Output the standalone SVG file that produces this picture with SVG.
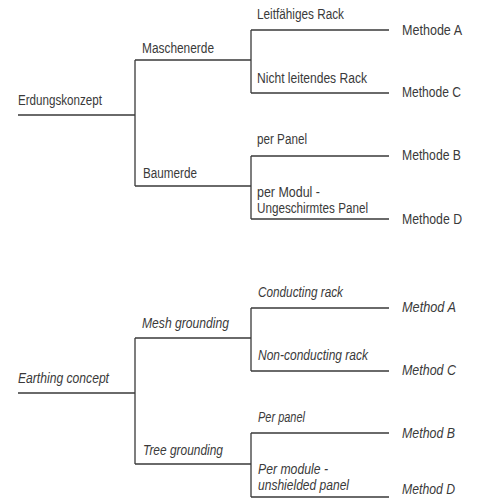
<svg xmlns="http://www.w3.org/2000/svg" width="477" height="499" viewBox="0 0 477 499">
<style>
.t{font-family:"Liberation Sans",Arial,sans-serif;font-size:14px;fill:#3a3a3a}
.i{font-style:italic}
.c{fill:none;stroke:#3a3a3a;stroke-width:1.3}
</style>
<rect width="477" height="499" fill="#fff"/>
<g id="connectors" class="c">
<path d="M18 115H135M135 60V186M135 60H251M135 186H251"/>
<path d="M251 30V93M251 30H389M251 93H389"/>
<path d="M251 156V219M251 156H389M251 219H389"/>
<path d="M18 393H135M135 338V464M135 338H251M135 464H251"/>
<path d="M251 308V371M251 308H389M251 371H389"/>
<path d="M251 433V497M251 433H389M251 497H389"/>
</g>
<g id="n-erdungskonzept"><text class="t" x="18" y="105" textLength="84" lengthAdjust="spacingAndGlyphs">Erdungskonzept</text></g>
<g id="n-maschenerde"><text class="t" x="142" y="53" textLength="72" lengthAdjust="spacingAndGlyphs">Maschenerde</text></g>
<g id="n-baumerde"><text class="t" x="143" y="178" textLength="54" lengthAdjust="spacingAndGlyphs">Baumerde</text></g>
<g id="n-leitfaehiges"><text class="t" x="257" y="19" textLength="87" lengthAdjust="spacingAndGlyphs">Leitfähiges Rack</text></g>
<g id="n-methode-a"><text class="t" x="402" y="35" textLength="60" lengthAdjust="spacingAndGlyphs">Methode A</text></g>
<g id="n-nicht-leitendes"><text class="t" x="257" y="83" textLength="110" lengthAdjust="spacingAndGlyphs">Nicht leitendes Rack</text></g>
<g id="n-methode-c"><text class="t" x="402" y="97" textLength="59" lengthAdjust="spacingAndGlyphs">Methode C</text></g>
<g id="n-per-panel"><text class="t" x="257" y="144" textLength="50" lengthAdjust="spacingAndGlyphs">per Panel</text></g>
<g id="n-methode-b"><text class="t" x="402" y="160" textLength="59" lengthAdjust="spacingAndGlyphs">Methode B</text></g>
<g id="n-per-modul"><text class="t" x="257" y="197" textLength="63" lengthAdjust="spacingAndGlyphs">per Modul -</text><text class="t" x="257" y="213" textLength="111" lengthAdjust="spacingAndGlyphs">Ungeschirmtes Panel</text></g>
<g id="n-methode-d"><text class="t" x="402" y="224" textLength="60" lengthAdjust="spacingAndGlyphs">Methode D</text></g>
<g id="n-earthing"><text class="t i" x="18" y="383" textLength="91" lengthAdjust="spacingAndGlyphs">Earthing concept</text></g>
<g id="n-mesh"><text class="t i" x="142" y="328" textLength="87" lengthAdjust="spacingAndGlyphs">Mesh grounding</text></g>
<g id="n-tree"><text class="t i" x="143" y="455" textLength="80" lengthAdjust="spacingAndGlyphs">Tree grounding</text></g>
<g id="n-conducting"><text class="t i" x="258" y="297" textLength="85" lengthAdjust="spacingAndGlyphs">Conducting rack</text></g>
<g id="n-method-a"><text class="t i" x="402" y="312" textLength="54" lengthAdjust="spacingAndGlyphs">Method A</text></g>
<g id="n-non-conducting"><text class="t i" x="258" y="360" textLength="110" lengthAdjust="spacingAndGlyphs">Non-conducting rack</text></g>
<g id="n-method-c"><text class="t i" x="402" y="375" textLength="54" lengthAdjust="spacingAndGlyphs">Method C</text></g>
<g id="n-per-panel-en"><text class="t i" x="258" y="422" textLength="47" lengthAdjust="spacingAndGlyphs">Per panel</text></g>
<g id="n-method-b"><text class="t i" x="402" y="438" textLength="53" lengthAdjust="spacingAndGlyphs">Method B</text></g>
<g id="n-per-module"><text class="t i" x="258" y="474" textLength="70" lengthAdjust="spacingAndGlyphs">Per module -</text><text class="t i" x="258" y="490" textLength="91" lengthAdjust="spacingAndGlyphs">unshielded panel</text></g>
<g id="n-method-d"><text class="t i" x="402" y="494" textLength="53" lengthAdjust="spacingAndGlyphs">Method D</text></g>
</svg>
